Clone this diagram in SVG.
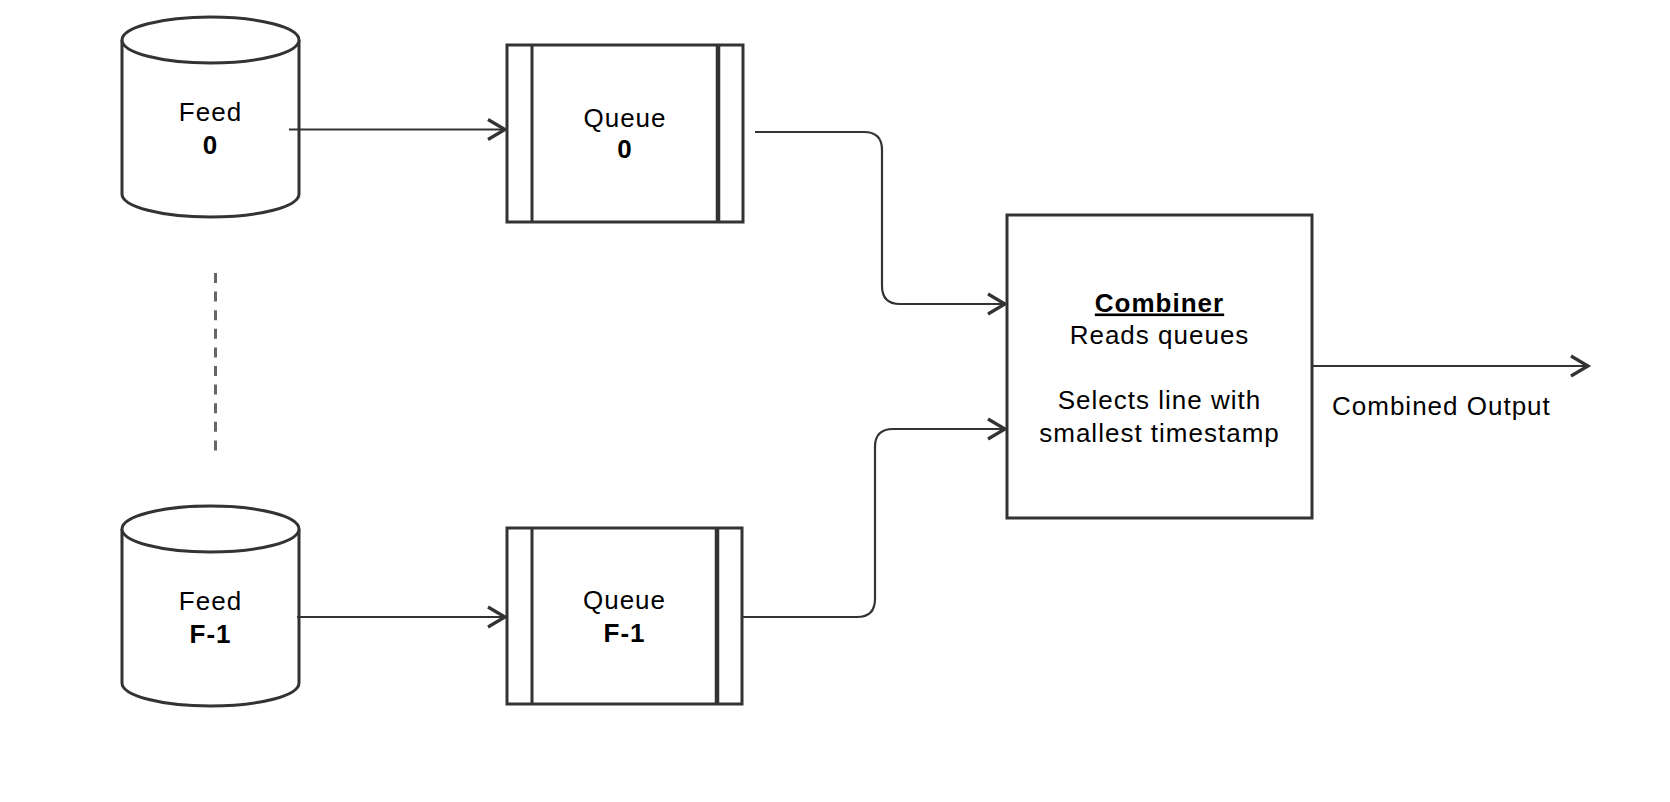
<svg xmlns="http://www.w3.org/2000/svg" width="1670" height="802" viewBox="0 0 1670 802">
<style>
.shape{fill:#fff;stroke:#333;stroke-width:3}
.bar{fill:none;stroke:#333;stroke-width:3}
.bar2{fill:none;stroke:#333;stroke-width:4.5}
.conn{fill:none;stroke:#333;stroke-width:2.2}
.t{font-family:"Liberation Sans",Arial,sans-serif;font-size:26px;letter-spacing:1px;fill:#000;text-anchor:middle}
.b{font-weight:bold}
</style>
<defs>
<marker id="arr" markerUnits="userSpaceOnUse" markerWidth="24" markerHeight="26" refX="20" refY="12" orient="auto">
<path d="M3,2 L20,12 L3,22" fill="none" stroke="#333" stroke-width="3.2"/>
</marker>
</defs>
<rect width="1670" height="802" fill="#fff"/>

<g id="feed0">
<path class="shape" d="M122,40 A88.5,23 0 0 1 299,40 V194 A88.5,23 0 0 1 122,194 Z"/>
<path class="shape" fill="none" d="M122,40 A88.5,23 0 0 0 299,40"/>
<text class="t" x="210.5" y="121">Feed</text>
<text class="t b" x="210.5" y="154">0</text>
</g>

<g id="feedF1">
<path class="shape" d="M122,529 A88.5,23 0 0 1 299,529 V683 A88.5,23 0 0 1 122,683 Z"/>
<path class="shape" fill="none" d="M122,529 A88.5,23 0 0 0 299,529"/>
<text class="t" x="210.5" y="610">Feed</text>
<text class="t b" x="210.5" y="643">F-1</text>
</g>

<g id="queue0">
<rect class="shape" x="507" y="45" width="236" height="177"/>
<line class="bar" x1="532" y1="45" x2="532" y2="222"/>
<line class="bar2" x1="718" y1="45" x2="718" y2="222"/>
<text class="t" x="625" y="127">Queue</text>
<text class="t b" x="625" y="158">0</text>
</g>

<g id="queueF1">
<rect class="shape" x="507" y="528" width="235" height="176"/>
<line class="bar" x1="532" y1="528" x2="532" y2="704"/>
<line class="bar2" x1="717" y1="528" x2="717" y2="704"/>
<text class="t" x="624.5" y="609">Queue</text>
<text class="t b" x="624.5" y="642">F-1</text>
</g>

<g id="combiner">
<rect class="shape" x="1007" y="215" width="305" height="303"/>
<text class="t b" x="1159.5" y="311.5" text-decoration="underline">Combiner</text>
<text class="t" x="1159.5" y="344">Reads queues</text>
<text class="t" x="1159.5" y="409">Selects line with</text>
<text class="t" x="1159.5" y="441.5">smallest timestamp</text>
</g>

<g id="output-label">
<text class="t" x="1332" y="415" text-anchor="start" style="text-anchor:start">Combined Output</text>
</g>

<g id="connectors">
<path class="conn" d="M289,129.5 H505" marker-end="url(#arr)"/>
<path class="conn" d="M297,617 H505" marker-end="url(#arr)"/>
<path class="conn" d="M755,132 H864 Q882,132 882,150 V286 Q882,304 900,304 H1005" marker-end="url(#arr)"/>
<path class="conn" d="M742,617 H857 Q875,617 875,599 V447 Q875,429 893,429 H1005" marker-end="url(#arr)"/>
<path class="conn" d="M1312,366 H1588" marker-end="url(#arr)"/>
<line x1="215.5" y1="273" x2="215.5" y2="453" stroke="#666" stroke-width="3" stroke-dasharray="10 8.6"/>
</g>
</svg>
